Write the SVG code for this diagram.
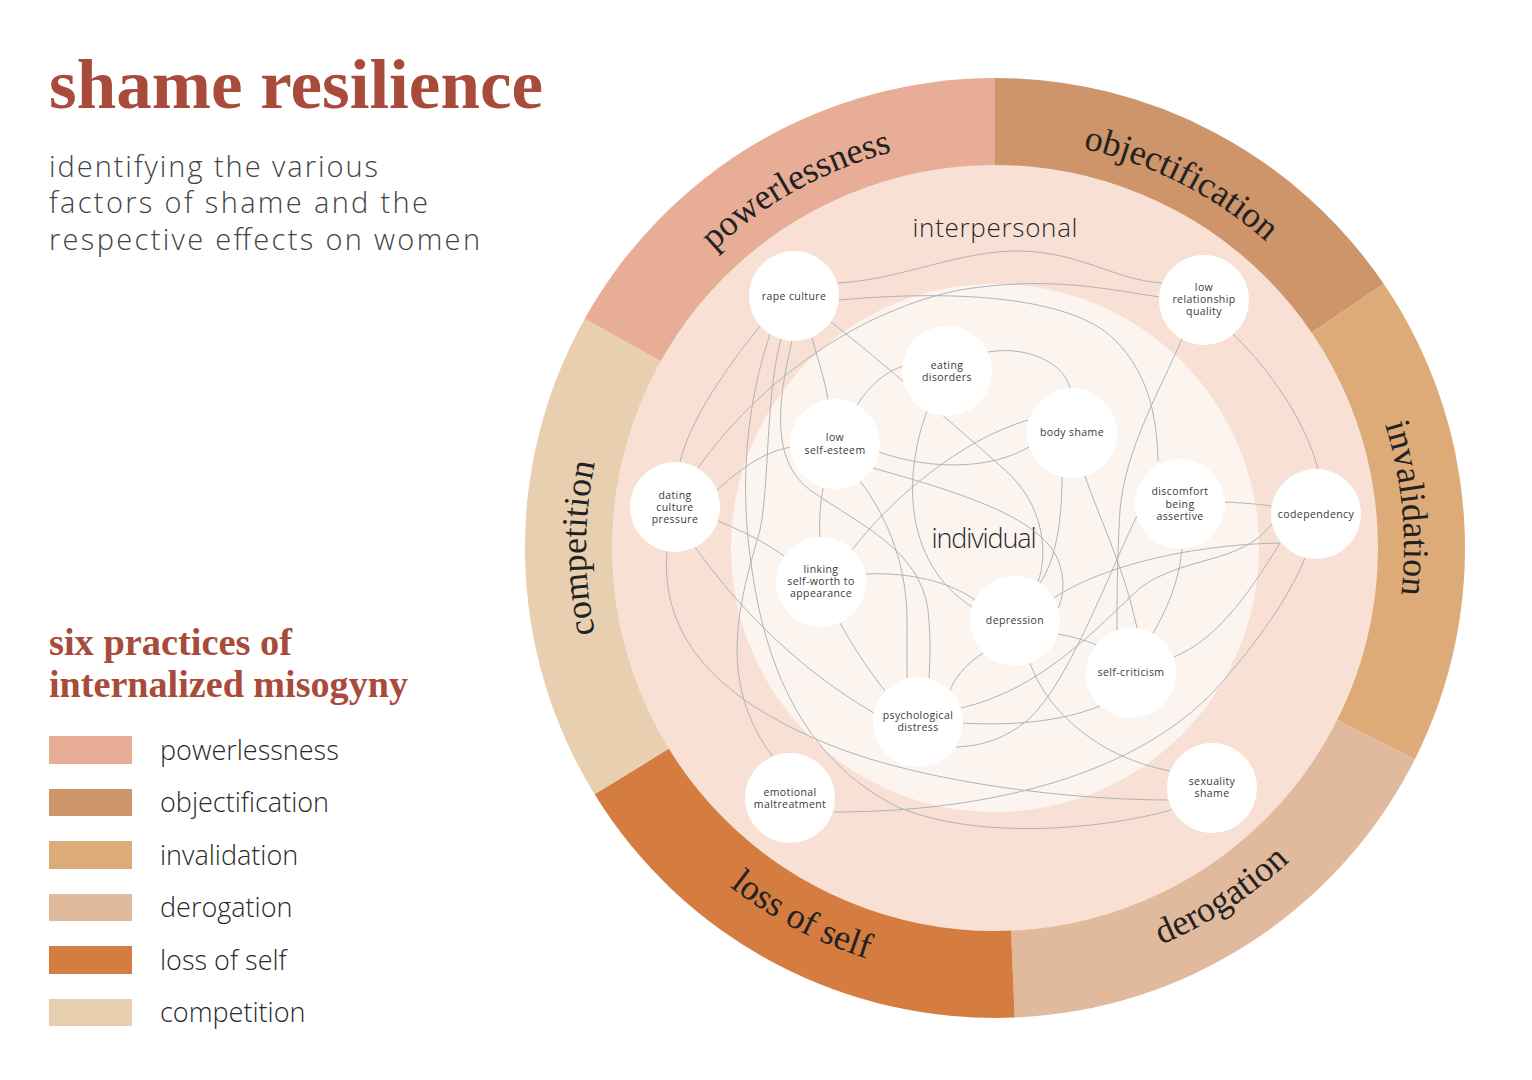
<svg xmlns="http://www.w3.org/2000/svg" width="1532" height="1080" viewBox="0 0 1532 1080">
<defs>
<style>
.title{font-family:"Liberation Serif","DejaVu Serif",serif;font-weight:bold;fill:#A84B3A}
.sub{font-family:"Open Sans",Lato,sans-serif;font-weight:300;fill:#444;font-size:29px}
.leg{font-family:"Open Sans",Lato,sans-serif;font-weight:300;fill:#2a2a2a;font-size:27px}
.ring{font-family:"Liberation Serif","DejaVu Serif",serif;font-size:36px;fill:#222}
.zone{font-family:"Open Sans",Lato,sans-serif;font-weight:300;fill:#2a2a2a;text-anchor:middle}
.node circle{fill:#fff}
.node text{font-family:"Open Sans","Noto Sans",sans-serif;font-size:10.5px;letter-spacing:0.4px;fill:#3a3a3a;text-anchor:middle}
.conn path{fill:none;stroke:#AEB4BB;stroke-width:1}
</style>
<path id="arc-pow" d="M601.8,435.3 A409,409 0 0,1 1107.7,154.8"/>
<path id="arc-obj" d="M868.6,159.0 A409,409 0 0,1 1384.0,421.6"/>
<path id="arc-inv" d="M1255.1,232.4 A409,409 0 0,1 1310.6,808.1"/>
<path id="arc-com" d="M705.8,837.2 A409,409 0 0,1 705.8,258.8"/>
<path id="arc-der" d="M905.6,968.6 A430,430 0 0,0 1415.6,637.4"/>
<path id="arc-los" d="M584.4,675.9 A430,430 0 0,0 1122.9,958.6"/>
</defs>
<rect width="1532" height="1080" fill="#fff"/>

<g id="heading">
<text class="title" x="49" y="108" font-size="70" textLength="494" lengthAdjust="spacingAndGlyphs">shame resilience</text>
<text class="sub" x="49" y="177" textLength="329" lengthAdjust="spacing">identifying the various</text>
<text class="sub" x="49" y="213" textLength="379" lengthAdjust="spacing">factors of shame and the</text>
<text class="sub" x="49" y="250" textLength="431" lengthAdjust="spacing">respective effects on women</text>
</g>

<g id="legend">
<text class="title" x="49" y="655" font-size="38" textLength="243" lengthAdjust="spacingAndGlyphs">six practices of</text>
<text class="title" x="49" y="697" font-size="38" textLength="359" lengthAdjust="spacingAndGlyphs">internalized misogyny</text>
<rect x="49" y="736" width="83" height="28" fill="#E8AD96"/>
<rect x="49" y="789" width="83" height="27" fill="#CE946A"/>
<rect x="49" y="841" width="83" height="28" fill="#DDAB77"/>
<rect x="49" y="894" width="83" height="27" fill="#E1B99C"/>
<rect x="49" y="946" width="83" height="28" fill="#D57C40"/>
<rect x="49" y="999" width="83" height="27" fill="#E7CFB0"/>
<text class="leg" x="160" y="760">powerlessness</text>
<text class="leg" x="160" y="812">objectification</text>
<text class="leg" x="160" y="865">invalidation</text>
<text class="leg" x="160" y="917">derogation</text>
<text class="leg" x="160" y="970">loss of self</text>
<text class="leg" x="160" y="1022">competition</text>
</g>

<g id="ring">
<path d="M995,548 L995,78 A470,470 0 0,1 1383.7,283.8 Z" fill="#CE946A"/>
<path d="M995,548 L1383.7,283.8 A470,470 0 0,1 1414.9,759.2 Z" fill="#DDAB77"/>
<path d="M995,548 L1414.9,759.2 A470,470 0 0,1 1014.7,1017.6 Z" fill="#E1B99C"/>
<path d="M995,548 L1014.7,1017.6 A470,470 0 0,1 594.6,794.3 Z" fill="#D57C40"/>
<path d="M995,548 L594.6,794.3 A470,470 0 0,1 584.7,318.7 Z" fill="#E7CFB0"/>
<path d="M995,548 L584.7,318.7 A470,470 0 0,1 995,78 Z" fill="#E8AD96"/>
<circle cx="995" cy="548" r="383" fill="#F9E0D4"/>
<circle cx="995" cy="548" r="264" fill="#FCF4EF"/>
<text class="ring"><textPath href="#arc-pow" startOffset="50%" text-anchor="middle">powerlessness</textPath></text>
<text class="ring"><textPath href="#arc-obj" startOffset="50%" text-anchor="middle">objectification</textPath></text>
<text class="ring"><textPath href="#arc-inv" startOffset="50%" text-anchor="middle">invalidation</textPath></text>
<text class="ring"><textPath href="#arc-com" startOffset="50%" text-anchor="middle">competition</textPath></text>
<text class="ring"><textPath href="#arc-der" startOffset="50%" text-anchor="middle">derogation</textPath></text>
<text class="ring"><textPath href="#arc-los" startOffset="50%" text-anchor="middle">loss of self</textPath></text>
<text class="zone" x="995" y="237" font-size="26" textLength="165" lengthAdjust="spacing">interpersonal</text>
<text class="zone" x="984" y="548" font-size="27" textLength="105" lengthAdjust="spacing">individual</text>
</g>

<g id="connectors" class="conn">
<path d="M838,283 C900,280 960,250 1020,251 C1080,252 1115,280 1162,283"/>
<path d="M698,468 C760,380 860,310 960,290 C1050,275 1110,290 1160,297"/>
<path d="M839,300 C950,290 1070,295 1115,340 C1150,375 1157,420 1158,461"/>
<path d="M831,322 C880,360 960,430 1005,470 C1045,505 1048,555 1038,582"/>
<path d="M760,326 C725,370 690,420 680,462"/>
<path d="M770,334 C748,400 738,480 752,570 C765,660 800,760 900,808 C980,840 1100,830 1171,810"/>
<path d="M781,339 C765,400 770,480 760,530 C740,600 715,680 773,757"/>
<path d="M792,341 C778,400 770,460 810,490 C860,525 920,550 928,610 C931,640 930,660 929,678"/>
<path d="M812,338 C818,360 825,380 828,400"/>
<path d="M857,405 C870,385 885,372 903,366"/>
<path d="M879,452 C930,470 990,470 1029,447"/>
<path d="M873,468 C950,490 1040,515 1058,560 C1066,580 1063,598 1058,608"/>
<path d="M860,481 C890,520 907,570 907,620 C907,650 907,665 907,678"/>
<path d="M823,488 C820,505 819,520 820,537"/>
<path d="M927,411 C905,470 900,560 972,607"/>
<path d="M988,352 C1030,345 1065,365 1070,388"/>
<path d="M852,550 C890,500 960,440 1028,420"/>
<path d="M866,574 C910,572 950,582 975,600"/>
<path d="M840,623 C855,650 870,672 885,691"/>
<path d="M983,653 C970,662 958,672 950,690"/>
<path d="M1058,634 C1070,636 1085,640 1097,645"/>
<path d="M1054,598 C1095,570 1180,545 1280,543"/>
<path d="M1030,663 C1045,705 1090,755 1170,771"/>
<path d="M1062,477 C1062,520 1056,560 1040,583"/>
<path d="M1085,476 C1100,520 1125,570 1137,628"/>
<path d="M1182,339 C1160,390 1125,450 1120,510 C1117,560 1117,600 1117,630"/>
<path d="M1233,334 C1270,370 1305,420 1318,469"/>
<path d="M1137,516 C1110,570 1070,680 1030,718 C1005,740 980,746 956,747"/>
<path d="M1182,548 C1180,575 1170,605 1153,633"/>
<path d="M1225,502 C1245,503 1258,504 1271,506"/>
<path d="M1174,657 C1215,640 1245,600 1280,543"/>
<path d="M1100,706 C1060,722 1010,726 963,723"/>
<path d="M961,708 C1040,690 1095,630 1140,588 C1185,555 1240,565 1272,524"/>
<path d="M834,812 C1000,812 1140,770 1215,690 C1260,640 1290,595 1305,558"/>
<path d="M667,551 C660,640 720,700 830,745 C930,785 1080,800 1167,800"/>
<path d="M695,547 C740,610 800,670 874,713"/>
<path d="M718,521 C740,530 765,542 784,556"/>
<path d="M717,490 C745,465 765,452 791,447"/>
</g>

<g id="node-rape-culture" class="node"><circle cx="794" cy="296" r="45"/><text x="794" y="300">rape culture</text></g>
<g id="node-low-relationship-quality" class="node"><circle cx="1204" cy="300" r="45"/><text x="1204" y="291"><tspan x="1204">low</tspan><tspan x="1204" dy="12">relationship</tspan><tspan x="1204" dy="12">quality</tspan></text></g>
<g id="node-eating-disorders" class="node"><circle cx="947" cy="371" r="45"/><text x="947" y="369"><tspan x="947">eating</tspan><tspan x="947" dy="12">disorders</tspan></text></g>
<g id="node-low-self-esteem" class="node"><circle cx="835" cy="444" r="45"/><text x="835" y="441"><tspan x="835">low</tspan><tspan x="835" dy="12.5">self-esteem</tspan></text></g>
<g id="node-body-shame" class="node"><circle cx="1072" cy="433" r="45"/><text x="1072" y="436">body shame</text></g>
<g id="node-dating-culture-pressure" class="node"><circle cx="675" cy="507" r="45"/><text x="675" y="498.5"><tspan x="675">dating</tspan><tspan x="675" dy="12">culture</tspan><tspan x="675" dy="12">pressure</tspan></text></g>
<g id="node-discomfort-being-assertive" class="node"><circle cx="1180" cy="504" r="45"/><text x="1180" y="495"><tspan x="1180">discomfort</tspan><tspan x="1180" dy="12.5">being</tspan><tspan x="1180" dy="12.5">assertive</tspan></text></g>
<g id="node-codependency" class="node"><circle cx="1316" cy="514" r="45"/><text x="1316" y="518">codependency</text></g>
<g id="node-linking-self-worth" class="node"><circle cx="821" cy="582" r="45"/><text x="821" y="573"><tspan x="821">linking</tspan><tspan x="821" dy="12">self-worth to</tspan><tspan x="821" dy="12">appearance</tspan></text></g>
<g id="node-depression" class="node"><circle cx="1015" cy="621" r="45"/><text x="1015" y="624">depression</text></g>
<g id="node-self-criticism" class="node"><circle cx="1131" cy="673" r="45"/><text x="1131" y="676">self-criticism</text></g>
<g id="node-psychological-distress" class="node"><circle cx="918" cy="722" r="45"/><text x="918" y="719"><tspan x="918">psychological</tspan><tspan x="918" dy="12">distress</tspan></text></g>
<g id="node-emotional-maltreatment" class="node"><circle cx="790" cy="798" r="45"/><text x="790" y="796"><tspan x="790">emotional</tspan><tspan x="790" dy="12">maltreatment</tspan></text></g>
<g id="node-sexuality-shame" class="node"><circle cx="1212" cy="788" r="45"/><text x="1212" y="785"><tspan x="1212">sexuality</tspan><tspan x="1212" dy="12">shame</tspan></text></g>
</svg>
